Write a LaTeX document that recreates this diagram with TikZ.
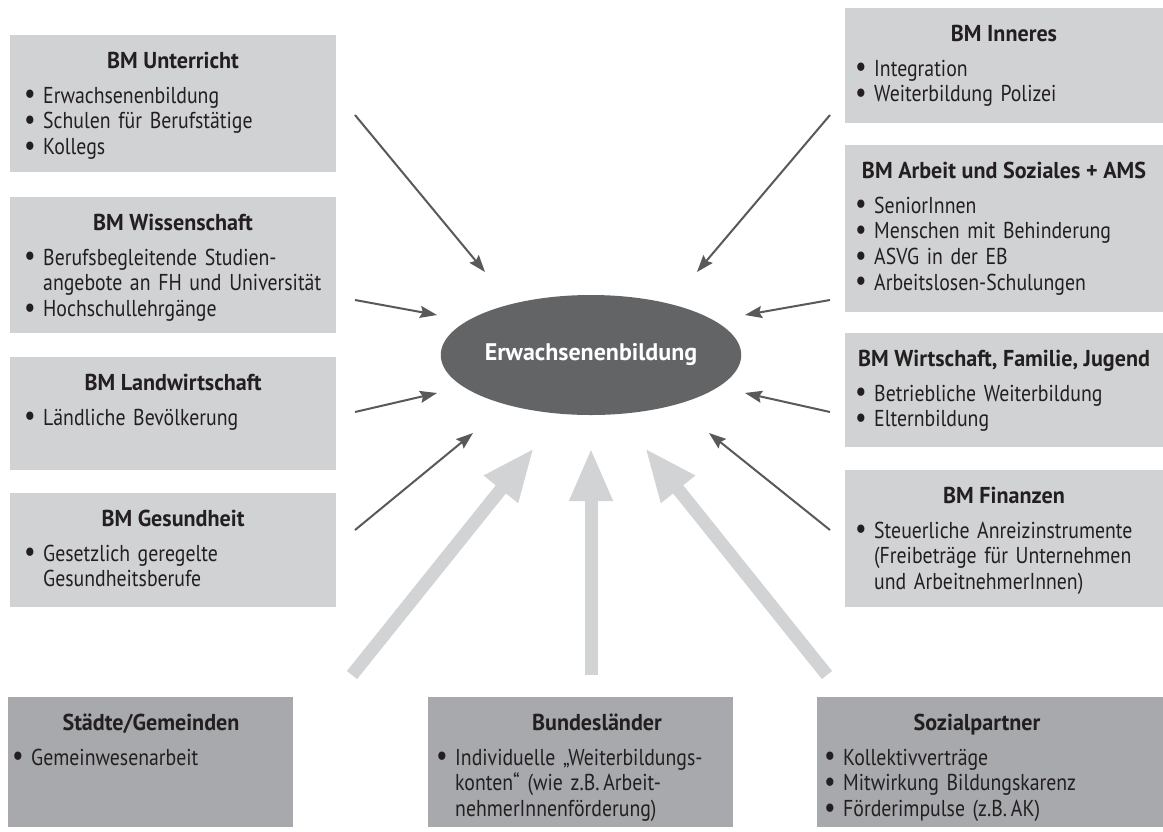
\documentclass[tikz,border=0pt]{standalone}
\usepackage{fontspec}
\setmainfont{PT Sans}[FakeStretch=0.86]
\newfontfamily\headfont{PT Sans}[FakeStretch=0.96]
\newfontfamily\ovalfont{PT Sans}
\usetikzlibrary{arrows.meta,shapes.geometric}

\definecolor{bmgray}{HTML}{D1D2D4}
\definecolor{regiongray}{HTML}{A7A9AC}
\definecolor{ovalgray}{HTML}{636466}
\definecolor{thingray}{HTML}{58595B}
\definecolor{fatgray}{HTML}{D1D3D4}
\definecolor{inkblack}{HTML}{231F20}

% one bullet line of a box
\newcommand{\bul}[1]{\noindent\hangindent=14pt\hangafter=1\makebox[14pt][l]{\hspace*{-5pt}\raisebox{-0.5pt}{\scalebox{1.3}{\textbullet}}}#1\par}

\begin{document}
\begin{tikzpicture}[x=1pt,y=1pt,yscale=-1,xscale=1,
  bmbox/.style={fill=bmgray,inner sep=0pt,anchor=north west},
  regionbox/.style={fill=regiongray,inner sep=0pt,anchor=north west},
  boxtitle/.style={anchor=base,inner sep=0pt,text=inkblack,font=\fontsize{23}{26}\headfont\bfseries},
  boxitems/.style={anchor=base west,inner sep=0pt,text width=330pt,align=left,text=inkblack,font=\fontsize{23}{25.8}\selectfont},
  thinarrow/.style={draw=thingray,line width=2pt,-{Stealth[length=17pt,width=12pt,inset=2.5pt]}},
  fatarrow/.style={draw=fatgray,line width=13pt,-{Triangle[length=53pt,width=40pt]}}]

\fill[white] (0,0) rectangle (1163,831);
\useasboundingbox (0,0) rectangle (1163,831);

%Shape: Ellipse [center]
\node[ellipse,fill=ovalgray,minimum width=282pt,minimum height=120pt,inner sep=0pt,
  text=white,font=\fontsize{24}{28}\ovalfont\bfseries] (eb) at (591,355) {Erwachsenenbildung};

%Shape: Rectangle [left column]
\node[bmbox,minimum width=326pt,minimum height=137pt] (unterricht) at (10,35) {};
\node[bmbox,minimum width=326pt,minimum height=136pt] (wissenschaft) at (10,197) {};
\node[bmbox,minimum width=326pt,minimum height=113pt] (landwirtschaft) at (10,357) {};
\node[bmbox,minimum width=326pt,minimum height=114pt] (gesundheit) at (10,493) {};

%Shape: Rectangle [right column]
\node[bmbox,minimum width=318pt,minimum height=115pt] (inneres) at (845,8) {};
\node[bmbox,minimum width=318pt,minimum height=167pt] (arbeit) at (845,145) {};
\node[bmbox,minimum width=318pt,minimum height=114pt] (wirtschaft) at (845,333) {};
\node[bmbox,minimum width=318pt,minimum height=137pt] (finanzen) at (845,470) {};

%Shape: Rectangle [bottom row]
\node[regionbox,minimum width=285pt,minimum height=130pt] (staedte) at (8,697) {};
\node[regionbox,minimum width=305pt,minimum height=130pt] (laender) at (428,697) {};
\node[regionbox,minimum width=346pt,minimum height=130pt] (sozial) at (817,697) {};

% Text Node
\node[boxtitle] (unterricht-t) at (173,68) {BM Unterricht};
\node[boxitems] (unterricht-i) at (29,103) {\bul{Erwachsenenbildung}\bul{Schulen für Berufstätige}\bul{Kollegs}};
% Text Node
\node[boxtitle] (wissenschaft-t) at (173,230) {BM Wissenschaft};
\node[boxitems] (wissenschaft-i) at (29,265) {\bul{Berufsbegleitende Studien-\newline angebote an FH und Universität}\bul{Hochschullehrgänge}};
% Text Node
\node[boxtitle] (landwirtschaft-t) at (173,390) {BM Landwirtschaft};
\node[boxitems] (landwirtschaft-i) at (29,425) {\bul{Ländliche Bevölkerung}};
% Text Node
\node[boxtitle] (gesundheit-t) at (173,526) {BM Gesundheit};
\node[boxitems] (gesundheit-i) at (29,561) {\bul{Gesetzlich geregelte\newline Gesundheitsberufe}};
% Text Node
\node[boxtitle] (inneres-t) at (1004,41) {BM Inneres};
\node[boxitems] (inneres-i) at (860,76) {\bul{Integration}\bul{Weiterbildung Polizei}};
% Text Node
\node[boxtitle] (arbeit-t) at (1004,178) {BM Arbeit und Soziales + AMS};
\node[boxitems] (arbeit-i) at (860,213) {\bul{SeniorInnen}\bul{Menschen mit Behinderung}\bul{ASVG in der EB}\bul{Arbeitslosen-Schulungen}};
% Text Node
\node[boxtitle] (wirtschaft-t) at (1004,366) {BM Wirtschaft, Familie, Jugend};
\node[boxitems] (wirtschaft-i) at (860,401) {\bul{Betriebliche Weiterbildung}\bul{Elternbildung}};
% Text Node
\node[boxtitle] (finanzen-t) at (1004,503) {BM Finanzen};
\node[boxitems] (finanzen-i) at (860,538) {\bul{Steuerliche Anreizinstrumente\newline (Freibeträge für Unternehmen\newline und ArbeitnehmerInnen)}};
% Text Node
\node[boxtitle] (staedte-t) at (151,730) {Städte/Gemeinden};
\node[boxitems] (staedte-i) at (17,765) {\bul{Gemeinwesenarbeit}};
% Text Node
\node[boxtitle] (laender-t) at (597,730) {Bundesländer};
\node[boxitems] (laender-i) at (441,765) {\bul{Individuelle „Weiterbildungs-\newline konten“ (wie z.B.\,Arbeit-\newline nehmerInnenförderung)}};
% Text Node
\node[boxtitle] (sozial-t) at (977,730) {Sozialpartner};
\node[boxitems] (sozial-i) at (829,765) {\bul{Kollektivverträge}\bul{Mitwirkung Bildungskarenz}\bul{Förderimpulse (z.B.\,AK)}};

% arrow ends
\coordinate (unterricht-out) at (355,115);    \coordinate (unterricht-in) at (485,272);
\coordinate (wissenschaft-out) at (355,300);  \coordinate (wissenschaft-in) at (437,315);
\coordinate (landwirtschaft-out) at (355,412);\coordinate (landwirtschaft-in) at (437,393);
\coordinate (gesundheit-out) at (355,530);    \coordinate (gesundheit-in) at (473,433);
\coordinate (inneres-out) at (830,115);       \coordinate (inneres-in) at (697,272);
\coordinate (arbeit-out) at (830,300);        \coordinate (arbeit-in) at (745,315);
\coordinate (wirtschaft-out) at (830,412);    \coordinate (wirtschaft-in) at (745,393);
\coordinate (finanzen-out) at (830,530);      \coordinate (finanzen-in) at (709,433);
\coordinate (staedte-out) at (352,675);       \coordinate (staedte-in) at (534,448);
\coordinate (laender-out) at (591,675);       \coordinate (laender-in) at (591,448);
\coordinate (sozial-out) at (827,675);        \coordinate (sozial-in) at (645,448);

%Straight Lines [thin arrows]
\draw[thinarrow] (unterricht-out) -- (unterricht-in);
\draw[thinarrow] (wissenschaft-out) -- (wissenschaft-in);
\draw[thinarrow] (landwirtschaft-out) -- (landwirtschaft-in);
\draw[thinarrow] (gesundheit-out) -- (gesundheit-in);
\draw[thinarrow] (inneres-out) -- (inneres-in);
\draw[thinarrow] (arbeit-out) -- (arbeit-in);
\draw[thinarrow] (wirtschaft-out) -- (wirtschaft-in);
\draw[thinarrow] (finanzen-out) -- (finanzen-in);

%Straight Lines [thick arrows]
\draw[fatarrow] (staedte-out) -- (staedte-in);
\draw[fatarrow] (laender-out) -- (laender-in);
\draw[fatarrow] (sozial-out) -- (sozial-in);

\end{tikzpicture}
\end{document}
